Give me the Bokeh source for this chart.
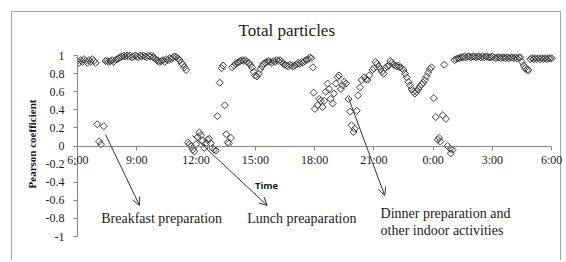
import numpy as np
from bokeh.plotting import figure
from bokeh.models import Range1d, Label, Arrow, OpenHead, FixedTicker, LinearAxis
from bokeh.embed import file_html
from bokeh.resources import INLINE

# ---- data: minutes after 06:00 and Pearson coefficient ----
a_min = [0, 5, 10, 15, 20, 25, 30, 35, 40, 45, 50, 55, 60, 66, 71, 80]
a_val = [0.94, 0.92, 0.95, 0.93, 0.96, 0.94, 0.92, 0.95, 0.93, 0.96, 0.94, 0.92,
         0.24, 0.05, 0.02, 0.22]

b_min = [85, 90, 95, 100, 105, 110, 115, 120, 125, 130, 135, 140,
         145, 150, 155, 160, 165, 170, 175, 180, 185, 190, 195, 200, 205, 210, 215, 220, 225,
         230, 235, 240, 245, 250, 255, 260, 265, 270, 275, 280, 285,
         290, 295, 300, 305, 310, 315, 320, 325, 330]
b_val = [0.94, 0.94, 0.93, 0.94, 0.95, 0.93, 0.95, 0.96, 0.97, 0.98, 0.99, 1.0,
         0.99, 1.0, 0.99, 1.0, 0.98, 0.99, 1.0, 0.99, 0.98, 1.0, 0.99, 1.0, 0.99, 0.98, 1.0, 0.99, 1.0,
         0.98, 0.97, 0.95, 0.94, 0.93, 0.94, 0.95, 0.93, 0.96, 0.95, 0.97, 0.96,
         0.98, 0.99, 0.98, 0.97, 0.95, 0.92, 0.90, 0.87, 0.84]

n_min = [335, 340, 345, 350, 355, 360, 365, 370, 375, 380, 385, 390, 395, 400, 405, 410, 415, 420,
         425, 432, 438, 442, 447, 452, 456, 460, 466]
n_val = [0.04, 0.02, 0.0, -0.04, -0.06, 0.02, 0.10, 0.15, 0.12, 0.06, -0.02, 0.03, 0.07, 0.08,
         0.03, -0.02, -0.04, -0.05, 0.33, 0.70, 0.86, 0.89, 0.45, 0.13, 0.04, 0.03, 0.09]

c_min = [470, 475, 480, 485, 490, 495, 500, 505, 510, 515, 520, 525, 530, 535, 540, 545,
         550, 555, 560, 565, 570, 575, 580, 585, 590, 595, 600, 605, 610, 615,
         620, 625, 630, 635, 640, 645, 650, 655, 660, 665, 670, 675, 680, 685, 690,
         695, 700, 705, 710, 715]
c_val = [0.87, 0.89, 0.91, 0.92, 0.93, 0.94, 0.95, 0.94, 0.95, 0.93, 0.92, 0.90, 0.87, 0.82, 0.78, 0.77,
         0.80, 0.85, 0.88, 0.91, 0.92, 0.93, 0.94, 0.93, 0.92, 0.94, 0.93, 0.95, 0.94, 0.95,
         0.93, 0.91, 0.90, 0.89, 0.88, 0.90, 0.89, 0.88, 0.89, 0.90, 0.92, 0.91, 0.93, 0.92, 0.94,
         0.95, 0.96, 0.98, 0.97, 0.87]

d_min = [717, 721, 729, 734, 739, 744, 749, 754, 760, 764, 769, 775, 779, 785, 790, 794, 800,
         805, 810, 815, 823, 828, 832, 838, 842, 848, 852, 858, 863, 871, 876, 881, 886, 896]
d_val = [0.59, 0.41, 0.45, 0.52, 0.50, 0.43, 0.50, 0.60, 0.69, 0.63, 0.52, 0.47, 0.58, 0.69, 0.76,
         0.78, 0.63, 0.67, 0.71, 0.69, 0.52, 0.38, 0.23, 0.155, 0.19, 0.39, 0.56, 0.65, 0.73, 0.76,
         0.74, 0.73, 0.78, 0.84]

e_min = [900, 905, 910, 915, 920, 925, 930, 935, 940, 945, 950, 955, 960, 965, 970, 975, 980,
         985, 990, 995, 1000, 1005, 1010, 1015, 1020, 1025, 1030, 1035, 1040, 1045, 1050, 1055,
         1060, 1065, 1070, 1075]
e_val = [0.86, 0.93, 0.91, 0.88, 0.85, 0.82, 0.80, 0.86, 0.88, 0.89, 0.94, 0.92, 0.90, 0.89, 0.88,
         0.89, 0.87, 0.86, 0.84, 0.80, 0.76, 0.71, 0.67, 0.63, 0.60, 0.58, 0.60, 0.63, 0.66, 0.68,
         0.70, 0.73, 0.77, 0.81, 0.85, 0.87]

f_min = [1082, 1088, 1094, 1098, 1102, 1109, 1114, 1119, 1124, 1132, 1134, 1139]
f_val = [0.53, 0.32, 0.07, 0.09, 0.05, 0.34, 0.90, 0.30, 0.0, -0.03, -0.08, -0.04]

g_min = [1145, 1150, 1155, 1160, 1165, 1170, 1175, 1180, 1185, 1190, 1195, 1200, 1205, 1210,
         1215, 1220, 1225, 1230, 1235, 1240, 1245, 1250, 1255, 1260, 1265, 1270, 1275, 1280,
         1285, 1290, 1295, 1300, 1305, 1310, 1315, 1320, 1325, 1330, 1335, 1340, 1345,
         1350, 1355, 1360, 1365, 1370]
g_val = [0.95, 0.96, 0.97, 0.97, 0.98, 0.98, 0.99, 0.98, 0.99, 0.99,
         0.98, 0.99, 0.99, 0.98, 0.99, 0.99, 0.98, 0.99, 0.98, 0.99,
         0.99, 0.98, 0.98, 0.99, 0.98, 0.97, 0.98, 0.98, 0.97, 0.98,
         0.98, 0.97, 0.98, 0.97, 0.98, 0.98, 0.97, 0.98, 0.97, 0.98, 0.98,
         0.93, 0.89, 0.86, 0.84, 0.84]

h_min = [1375, 1380, 1385, 1390, 1395, 1400, 1405, 1410, 1415, 1420, 1425, 1430, 1435, 1440]
h_val = [0.96, 0.97, 0.96, 0.97, 0.96, 0.97, 0.96, 0.97, 0.96, 0.97, 0.96, 0.97, 0.97, 0.97]

x_ticks = [6, 9, 12, 15, 18, 21, 24, 27, 30]
x_tick_labels = ["6:00", "9:00", "12:00", "15:00", "18:00", "21:00", "0:00", "3:00", "6:00"]
y_ticks = [-1.0, -0.8, -0.6, -0.4, -0.2, 0.0, 0.2, 0.4, 0.6, 0.8, 1.0]
y_tick_labels = ["-1", "-0.8", "-0.6", "-0.4", "-0.2", "0", "0.2", "0.4", "0.6", "0.8", "1"]

minutes = a_min + b_min + n_min + c_min + d_min + e_min + f_min + g_min + h_min
values = a_val + b_val + n_val + c_val + d_val + e_val + f_val + g_val + h_val
hours = [6 + m / 60.0 for m in minutes]

SERIF = "Liberation Serif"
INK = "#1a1a1a"
AXIS = "#868686"

p = figure(width=564, height=260, output_backend="svg", toolbar_location=None,
           x_range=Range1d(6, 30.6), y_range=Range1d(-1.0, 1.045),
           min_border_left=77, min_border_right=1, min_border_top=51, min_border_bottom=24)
p.grid.visible = False
p.outline_line_color = None
p.border_fill_alpha = 0
p.background_fill_alpha = 0
p.styles = {"box-shadow": "inset 11px 11px 0 0 #ffffff, inset -3px 0 0 0 #ffffff, "
                          "inset 12px 12px 0 0 #a6a6a6, inset -4px 0 0 0 #a6a6a6"}

p.title.text = "Total particles"
p.title.align = "left"
p.title.offset = 161
p.title.standoff = 23
p.title.text_font = SERIF
p.title.text_font_style = "normal"
p.title.text_font_size = "17px"
p.title.text_color = INK

p.scatter(hours, values, marker="square", size=5, angle=np.pi / 4,
          fill_color=None, line_color="#3d3d3d", line_width=1)

# x axis drawn across y = 0
xa = p.xaxis[0]
xa.fixed_location = 0
xa.bounds = (6, 30)
xa.ticker = FixedTicker(ticks=x_ticks)
xa.major_label_overrides = {t: (l if i > 0 else "") for i, (t, l) in enumerate(zip(x_ticks, x_tick_labels))}
xa.major_tick_out = 4
xa.major_tick_in = 0
xa.minor_tick_out = 0
xa.minor_tick_in = 0
xa.major_label_standoff = 3
xa.axis_label_standoff = 0
xa.axis_line_color = AXIS
xa.major_tick_line_color = AXIS
xa.major_label_text_font = SERIF
xa.major_label_text_font_size = "12px"
xa.major_label_text_color = INK

# y axis: line and ticks only
ya = p.yaxis[0]
ya.bounds = (-1, 1)
ya.ticker = FixedTicker(ticks=y_ticks)
ya.major_label_overrides = {t: "" for t in y_ticks}
ya.major_tick_out = 4
ya.major_tick_in = 0
ya.minor_tick_out = 0
ya.minor_tick_in = 0
ya.major_label_standoff = 0
ya.axis_label_standoff = 0
ya.axis_line_color = AXIS
ya.major_tick_line_color = AXIS

# first x tick label, sitting across the vertical axis
first_x = LinearAxis(ticker=FixedTicker(ticks=[-0.15]),
                     major_label_overrides={-0.15: x_tick_labels[0]},
                     axis_line_color=None, major_tick_line_color=None, minor_tick_line_color=None,
                     major_tick_out=0, major_tick_in=0, minor_tick_out=0, minor_tick_in=0,
                     major_label_standoff=-15, axis_label_standoff=0,
                     major_label_text_font=SERIF, major_label_text_font_size="12px",
                     major_label_text_color=INK)
p.add_layout(first_x, "left")

# y tick labels and axis title
y_lab = LinearAxis(ticker=FixedTicker(ticks=y_ticks),
                   major_label_overrides={t: l for t, l in zip(y_ticks, y_tick_labels)},
                   axis_line_color=None, major_tick_line_color=None, minor_tick_line_color=None,
                   major_tick_out=0, major_tick_in=0, minor_tick_out=0, minor_tick_in=0,
                   major_label_standoff=0,
                   major_label_text_font=SERIF, major_label_text_font_size="12px",
                   major_label_text_color=INK,
                   axis_label="Pearson coefficient", axis_label_text_font=SERIF,
                   axis_label_text_font_style="bold", axis_label_text_font_size="11px",
                   axis_label_text_color=INK, axis_label_standoff=5)
p.add_layout(y_lab, "left")

p.add_layout(Label(x=15.57, y=-0.436, text="Time", text_align="center", text_baseline="middle",
                   text_font="Open Sans", text_font_style="bold", text_font_size="9.5px",
                   text_color=INK))

notes = [
    (7.2, -0.80, "Breakfast preparation"),
    (14.59, -0.80, "Lunch preaparation"),
    (21.34, -0.743, "Dinner preparation and"),
    (21.34, -0.934, "other indoor activities"),
]
for x, y, t in notes:
    p.add_layout(Label(x=x, y=y, text=t, text_align="left", text_baseline="middle",
                       text_font=SERIF, text_font_size="14px", text_color=INK))

arrows = [
    (7.42, 0.127, 9.14, -0.657),
    (11.82, 0.116, 15.6, -0.657),
    (19.71, 0.536, 21.55, -0.547),
]
for x0, y0, x1, y1 in arrows:
    p.add_layout(Arrow(end=OpenHead(size=8, line_width=1, line_color="#333333"),
                       x_start=x0, y_start=y0, x_end=x1, y_end=y1,
                       line_color="#333333", line_width=1))

open("out.html", "w").write(file_html(p, INLINE))
